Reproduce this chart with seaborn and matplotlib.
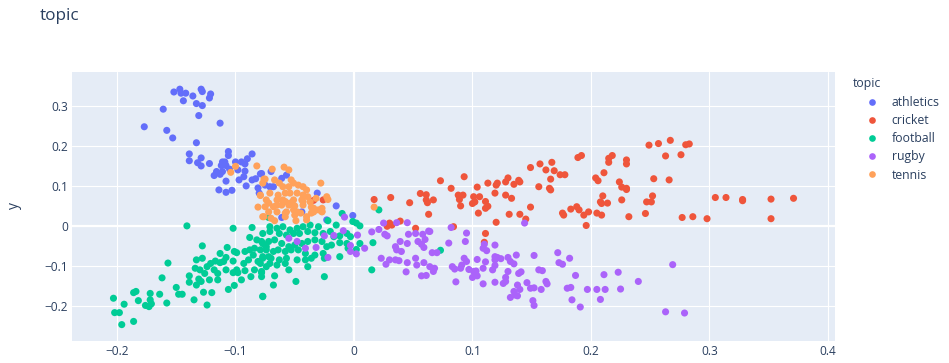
import pandas as pd
import matplotlib.pyplot as plt
import seaborn as sns
from matplotlib.lines import Line2D
from matplotlib.ticker import FuncFormatter

# points, (x, y) per topic
athletics = [
    (-0.152, 0.336), (-0.147, 0.343), (-0.146, 0.333), (-0.142, 0.333), (-0.136, 0.326), (-0.144, 0.314),
    (-0.129, 0.343), (-0.128, 0.337), (-0.121, 0.331), (-0.122, 0.321), (-0.133, 0.307), (-0.128, 0.302),
    (-0.161, 0.293), (-0.131, 0.277), (-0.113, 0.258), (-0.177, 0.249), (-0.158, 0.240), (-0.153, 0.221),
    (-0.133, 0.209), (-0.139, 0.181), (-0.139, 0.164), (-0.129, 0.171), (-0.132, 0.159), (-0.129, 0.151),
    (-0.122, 0.157), (-0.106, 0.187), (-0.106, 0.177), (-0.086, 0.181), (-0.090, 0.169), (-0.111, 0.161),
    (-0.109, 0.161), (-0.112, 0.152), (-0.108, 0.152), (-0.100, 0.161), (-0.095, 0.161), (-0.092, 0.156),
    (-0.116, 0.137), (-0.113, 0.130), (-0.118, 0.127), (-0.111, 0.137), (-0.105, 0.143), (-0.098, 0.141),
    (-0.092, 0.138), (-0.093, 0.124), (-0.097, 0.116), (-0.108, 0.113), (-0.086, 0.116), (-0.083, 0.119),
    (-0.079, 0.131), (-0.091, 0.101), (-0.114, 0.091), (-0.108, 0.085), (-0.103, 0.090), (-0.081, 0.096),
    (-0.080, 0.083), (-0.071, 0.099), (-0.078, 0.132), (-0.070, 0.137), (-0.061, 0.120), (-0.057, 0.128),
    (-0.075, 0.103), (-0.068, 0.099), (-0.031, 0.083), (-0.015, 0.051), (-0.044, 0.036), (-0.061, 0.022),
    (-0.001, 0.027), (-0.023, 0.016),
]

cricket = [
    (-0.034, 0.065), (-0.026, 0.066), (0.017, 0.067), (0.031, 0.072), (0.047, 0.059), (0.056, 0.082),
    (0.061, 0.079), (0.061, 0.066), (0.062, 0.059), (0.067, 0.066), (0.063, 0.030), (0.073, 0.114),
    (0.093, 0.124), (0.082, 0.095), (0.088, 0.078), (0.092, 0.078), (0.089, 0.067), (0.090, 0.051),
    (0.104, 0.098), (0.101, 0.074), (0.106, 0.074), (0.100, 0.057), (0.102, 0.061), (0.111, 0.062),
    (0.113, 0.050), (0.111, 0.045), (0.105, 0.033), (0.113, 0.108), (0.120, 0.103), (0.121, 0.108),
    (0.119, 0.083), (0.128, 0.111), (0.130, 0.121), (0.128, 0.078), (0.133, 0.070), (0.135, 0.105),
    (0.139, 0.115), (0.140, 0.111), (0.131, 0.030), (0.140, 0.030), (0.149, 0.048), (0.145, 0.018),
    (0.149, 0.147), (0.157, 0.156), (0.167, 0.160), (0.162, 0.141), (0.169, 0.139), (0.166, 0.118),
    (0.174, 0.129), (0.178, 0.129), (0.156, 0.099), (0.165, 0.095), (0.166, 0.091), (0.189, 0.172),
    (0.192, 0.177), (0.204, 0.121), (0.206, 0.114), (0.211, 0.134), (0.215, 0.170), (0.218, 0.177),
    (0.215, 0.160), (0.230, 0.166), (0.230, 0.156), (0.224, 0.111), (0.226, 0.098), (0.230, 0.095),
    (0.226, 0.066), (0.210, 0.076), (0.208, 0.061), (0.209, 0.057), (0.214, 0.058), (0.183, 0.043),
    (0.188, 0.049), (0.190, 0.041), (0.194, 0.028), (0.176, 0.033), (0.177, 0.028), (0.198, 0.036),
    (0.205, 0.033), (0.209, 0.028), (0.232, 0.024), (0.249, 0.203), (0.257, 0.207), (0.267, 0.215),
    (0.280, 0.204), (0.283, 0.206), (0.263, 0.176), (0.276, 0.179), (0.230, 0.092), (0.253, 0.119),
    (0.266, 0.116), (0.252, 0.076), (0.247, 0.061), (0.251, 0.061), (0.246, 0.032), (0.277, 0.022),
    (0.286, 0.024), (0.298, 0.019), (0.305, 0.072), (0.314, 0.072), (0.328, 0.067), (0.328, 0.064),
    (0.352, 0.068), (0.371, 0.070), (0.352, 0.019), (0.120, 0.010), (0.196, 0.002), (0.111, -0.018),
    (0.084, -0.001), (0.110, -0.040), (0.030, 0.008), (0.032, 0.003), (0.028, 0.000), (0.039, 0.013),
    (0.052, -0.005),
]

football = [
    (-0.141, 0.001), (-0.102, -0.005), (-0.086, -0.003), (-0.077, -0.018), (-0.088, -0.028), (-0.128, -0.049),
    (-0.107, -0.053), (-0.113, -0.068), (-0.101, -0.063), (-0.099, -0.066), (-0.092, -0.063), (-0.088, -0.059),
    (-0.084, -0.055), (-0.079, -0.059), (-0.082, -0.034), (-0.077, -0.043), (-0.074, -0.051), (-0.157, -0.092),
    (-0.133, -0.084), (-0.128, -0.080), (-0.124, -0.101), (-0.121, -0.093), (-0.117, -0.087), (-0.113, -0.091),
    (-0.110, -0.088), (-0.108, -0.078), (-0.102, -0.087), (-0.093, -0.093), (-0.089, -0.084), (-0.085, -0.072),
    (-0.081, -0.088), (-0.077, -0.080), (-0.072, -0.076), (-0.134, -0.105), (-0.130, -0.109), (-0.126, -0.118),
    (-0.118, -0.109), (-0.115, -0.118), (-0.108, -0.109), (-0.099, -0.109), (-0.092, -0.111), (-0.084, -0.109),
    (-0.078, -0.116), (-0.139, -0.124), (-0.131, -0.132), (-0.129, -0.138), (-0.122, -0.134), (-0.115, -0.134),
    (-0.102, -0.116), (-0.098, -0.116), (-0.087, -0.126), (-0.078, -0.126), (-0.139, -0.140), (-0.133, -0.147),
    (-0.095, -0.134), (-0.101, -0.148), (-0.106, -0.158), (-0.162, -0.129), (-0.150, -0.153), (-0.148, -0.170),
    (-0.145, -0.170), (-0.164, -0.170), (-0.172, -0.168), (-0.184, -0.163), (-0.186, -0.166), (-0.182, -0.186),
    (-0.172, -0.184), (-0.176, -0.198), (-0.173, -0.201), (-0.171, -0.194), (-0.158, -0.192), (-0.135, -0.184),
    (-0.127, -0.165), (-0.120, -0.166), (-0.124, -0.197), (-0.077, -0.175), (-0.203, -0.180), (-0.194, -0.195),
    (-0.202, -0.216), (-0.198, -0.216), (-0.196, -0.246), (-0.186, -0.238),
    (-0.072, 0.022), (-0.010, 0.032), (-0.001, 0.012), (0.002, 0.008), (0.005, 0.001), (-0.022, 0.014),
    (-0.015, 0.003), (-0.030, -0.001), (-0.037, 0.003), (-0.043, -0.001), (-0.048, -0.005), (-0.054, -0.009),
    (-0.060, -0.001), (-0.065, -0.005), (-0.071, -0.001), (-0.071, -0.013), (-0.063, -0.018), (-0.057, -0.022),
    (-0.051, -0.018), (-0.046, -0.018), (-0.039, -0.013), (-0.033, -0.016), (-0.026, -0.018), (-0.020, -0.013),
    (-0.017, -0.026), (-0.012, -0.024), (-0.006, -0.018), (-0.003, -0.026), (-0.078, -0.038), (-0.072, -0.038),
    (-0.067, -0.034), (-0.061, -0.043), (-0.055, -0.051), (-0.050, -0.047), (-0.044, -0.043), (-0.039, -0.038),
    (-0.033, -0.034), (-0.027, -0.038), (-0.023, -0.051), (-0.019, -0.047), (-0.012, -0.041), (-0.006, -0.043),
    (-0.074, -0.059), (-0.068, -0.063), (-0.064, -0.059), (-0.058, -0.063), (-0.053, -0.059), (-0.047, -0.059),
    (-0.041, -0.068), (-0.033, -0.072), (-0.026, -0.068), (-0.025, -0.080), (-0.012, -0.076), (-0.005, -0.055),
    (0.002, -0.058), (0.005, -0.043), (0.016, -0.041), (-0.077, -0.076), (-0.070, -0.080), (-0.063, -0.084),
    (-0.057, -0.080), (-0.048, -0.084), (-0.041, -0.084), (-0.036, -0.080), (-0.079, -0.093), (-0.071, -0.093),
    (-0.065, -0.097), (-0.058, -0.093), (-0.074, -0.101), (-0.055, -0.109), (-0.039, -0.101), (-0.078, -0.113),
    (-0.067, -0.124), (-0.068, -0.147), (-0.049, -0.138), (-0.025, -0.126), (-0.077, -0.176), (0.015, -0.109),
    (0.021, 0.041), (0.073, -0.060),
]

rugby = [
    (-0.008, 0.023), (-0.025, -0.024), (-0.017, -0.023), (-0.009, -0.011), (0.003, -0.022), (0.009, -0.055),
    (-0.003, -0.048), (-0.003, -0.063), (0.002, -0.069), (-0.022, -0.078), (-0.032, -0.053), (-0.041, -0.055),
    (-0.048, -0.038), (-0.055, -0.030), (0.015, -0.014), (0.021, -0.008), (0.025, 0.008), (0.026, -0.020),
    (0.028, -0.024), (0.036, 0.009), (0.045, 0.009), (0.046, -0.020), (0.045, -0.043), (0.035, -0.051),
    (0.036, -0.059), (0.040, -0.063), (0.039, -0.038), (0.052, -0.018), (0.054, -0.038), (0.058, -0.020),
    (0.063, -0.012), (0.060, -0.033), (0.059, -0.053), (0.057, -0.045), (0.023, -0.080), (0.027, -0.095),
    (0.030, -0.084), (0.035, -0.084), (0.038, -0.086), (0.045, -0.091), (0.052, -0.080), (0.059, -0.091),
    (0.057, -0.124), (0.061, -0.123), (0.044, -0.114), (0.053, -0.097),
    (0.082, -0.003), (0.095, -0.017), (0.094, -0.038), (0.080, -0.042), (0.064, -0.013), (0.066, -0.066),
    (0.070, -0.066), (0.064, -0.101), (0.068, -0.105), (0.067, -0.113), (0.083, -0.101), (0.085, -0.107),
    (0.090, -0.105), (0.091, -0.097), (0.093, -0.080), (0.095, -0.088), (0.097, -0.108), (0.086, -0.139),
    (0.101, -0.113), (0.103, -0.112), (0.100, -0.128), (0.104, -0.124), (0.109, -0.105), (0.104, -0.083),
    (0.111, -0.089), (0.109, -0.055), (0.112, -0.061), (0.110, -0.045), (0.119, -0.047), (0.119, -0.076),
    (0.121, -0.078), (0.124, -0.081), (0.119, -0.084), (0.130, -0.078), (0.132, -0.088), (0.135, -0.094),
    (0.137, -0.072), (0.117, -0.109), (0.119, -0.098), (0.130, -0.113), (0.139, -0.118), (0.141, -0.114),
    (0.128, -0.128), (0.126, -0.143), (0.128, -0.138), (0.119, -0.140), (0.109, -0.144), (0.138, -0.147),
    (0.140, -0.158), (0.135, -0.163), (0.136, -0.172), (0.132, -0.178), (0.138, -0.174), (0.146, -0.141),
    (0.149, -0.155), (0.152, -0.154), (0.158, -0.158), (0.162, -0.138), (0.163, -0.144), (0.151, -0.186),
    (0.152, -0.198), (0.156, -0.109), (0.159, -0.111), (0.152, -0.073), (0.144, 0.008), (0.172, -0.066),
    (0.173, -0.091), (0.176, -0.095), (0.182, -0.080), (0.187, -0.123), (0.180, -0.155), (0.183, -0.153),
    (0.184, -0.184), (0.191, -0.202), (0.197, -0.158), (0.205, -0.158), (0.212, -0.158), (0.208, -0.183),
    (0.211, -0.121), (0.223, -0.115), (0.225, -0.157), (0.269, -0.096), (0.240, -0.138), (0.263, -0.214),
    (0.279, -0.217),
]

tennis = [
    (-0.082, 0.151), (-0.100, 0.150), (-0.104, 0.135), (-0.076, 0.118), (-0.079, 0.077), (-0.081, 0.048),
    (-0.076, 0.024), (-0.069, 0.143), (-0.059, 0.148), (-0.055, 0.141), (-0.075, 0.118), (-0.067, 0.116),
    (-0.077, 0.108), (-0.063, 0.108), (-0.053, 0.116), (-0.051, 0.108), (-0.047, 0.103), (-0.043, 0.099),
    (-0.040, 0.091), (-0.028, 0.108), (-0.071, 0.083), (-0.064, 0.078), (-0.058, 0.083), (-0.054, 0.083),
    (-0.048, 0.083), (-0.043, 0.078), (-0.039, 0.074), (-0.074, 0.066), (-0.065, 0.066), (-0.060, 0.066),
    (-0.051, 0.066), (-0.044, 0.066), (-0.032, 0.070), (-0.023, 0.074), (-0.022, 0.067), (-0.075, 0.049),
    (-0.068, 0.049), (-0.061, 0.053), (-0.055, 0.053), (-0.050, 0.051), (-0.043, 0.053), (-0.036, 0.048),
    (-0.027, 0.045), (-0.072, 0.036), (-0.065, 0.036), (-0.057, 0.036), (-0.048, 0.036), (-0.034, 0.036),
    (-0.027, 0.036), (-0.070, 0.020), (-0.058, 0.024), (-0.050, 0.028), (-0.040, 0.024), (-0.079, 0.078),
    (0.017, 0.048), (-0.060, 0.099), (-0.055, 0.099), (-0.037, 0.061), (-0.072, 0.058), (-0.065, 0.053),
    (-0.058, 0.062), (-0.054, 0.058), (-0.058, 0.033), (-0.051, 0.041), (-0.043, 0.062), (-0.034, 0.045),
    (-0.030, 0.041), (-0.027, 0.037), (-0.036, 0.033), (-0.077, 0.024), (-0.067, 0.014), (-0.049, 0.014),
    (-0.040, 0.016), (-0.045, 0.033),
]

topics = ['athletics', 'cricket', 'football', 'rugby', 'tennis']
colors = ['#636EFA', '#EF553B', '#00CC96', '#AB63FA', '#FFA15A']
x_ticks = [-0.2, -0.1, 0, 0.1, 0.2, 0.3, 0.4]
y_ticks = [-0.2, -0.1, 0, 0.1, 0.2, 0.3]

rows = []
for name, pts in zip(topics, [athletics, cricket, football, rugby, tennis]):
    for x, y in pts:
        rows.append({'x': x, 'y': y, 'topic': name})
df = pd.DataFrame(rows)

txt = '#2a3f5f'
sns.set_style('darkgrid', {'axes.facecolor': '#E5ECF6', 'grid.color': 'white',
                           'axes.edgecolor': 'none'})
plt.rcParams['font.family'] = ['Open Sans', 'DejaVu Sans']

fig = plt.figure(figsize=(9.49, 3.63), dpi=100)
ax = fig.add_axes([72 / 949, 22 / 363, 763 / 949, 269 / 363])

sns.scatterplot(data=df, x='x', y='y', hue='topic', hue_order=topics,
                palette=dict(zip(topics, colors)), s=26, linewidth=0,
                alpha=1, legend=False, ax=ax, zorder=3)

ax.set_xlim(-0.238, 0.406)
ax.set_ylim(-0.287, 0.386)
ax.set_xticks(x_ticks)
ax.set_yticks(y_ticks)
fmt = FuncFormatter(lambda v, p: f'{v:g}'.replace('-', '\u2212'))
ax.xaxis.set_major_formatter(fmt)
ax.yaxis.set_major_formatter(fmt)
ax.grid(True, color='white', linewidth=0.8)
ax.axhline(0, color='white', linewidth=1.6, zorder=1)
ax.axvline(0, color='white', linewidth=1.6, zorder=1)
ax.tick_params(length=0, labelsize=8.6, labelcolor=txt, pad=3)
ax.set_xlabel('')
ax.set_ylabel('')
for sp in ax.spines.values():
    sp.set_visible(False)

fig.text(40 / 949, 1 - 16 / 363, 'topic', fontsize=12.3, color=txt, va='center', ha='left')
fig.text(14 / 949, 1 - 206 / 363, 'y', fontsize=10, color=txt, va='center', ha='center', rotation=90)

# legend
fig.text(853 / 949, 1 - 84 / 363, 'topic', fontsize=8.8, color=txt, va='center', ha='left')
handles = [Line2D([], [], marker='o', linestyle='', markersize=4.8, color=c, markeredgewidth=0)
               for c in colors]
leg = ax.legend(handles, topics, loc='upper left', bbox_to_anchor=(866 / 949, 1 - 96 / 363),
                bbox_transform=fig.transFigure, frameon=False, borderpad=0, borderaxespad=0,
                handlelength=1.0, handletextpad=1.1, labelspacing=0.42, fontsize=8.8)
for t in leg.get_texts():
    t.set_color(txt)

plt.savefig('out.png', dpi=100)
